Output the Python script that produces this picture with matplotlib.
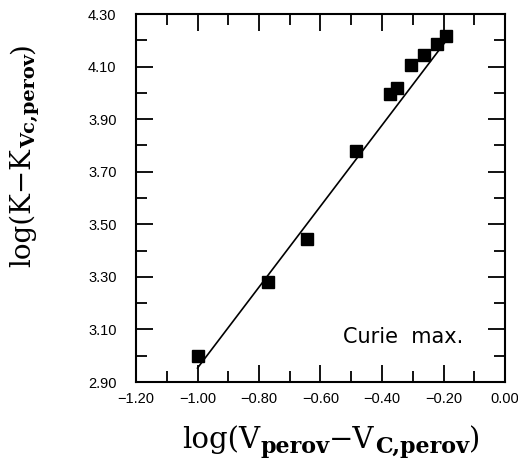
import matplotlib
matplotlib.use("Agg")
import matplotlib.pyplot as plt
from matplotlib.ticker import MultipleLocator, FuncFormatter
import numpy as np

# data
x_vals = [-1.00, -0.77, -0.645, -0.485, -0.374, -0.351, -0.306, -0.263, -0.221, -0.192]
y_vals = [3.00, 3.28, 3.445, 3.78, 3.995, 4.02, 4.105, 4.145, 4.185, 4.215]
fit_x = [-1.00, -0.19]
fit_slope = 1.54
fit_intercept = 2.953 + 1.54  # y at x=0
y_ticks = [2.9, 3.1, 3.3, 3.5, 3.7, 3.9, 4.1, 4.3]
annotation = "Curie  max."

W, H = 518, 469
fig = plt.figure(figsize=(W/100, H/100), dpi=100)
ax = fig.add_axes([136/W, 1-382/H, (505-136)/W, (382-14)/H])

ax.plot(x_vals, y_vals, 's', color='black', ms=9, zorder=3)
fx = np.array(fit_x)
ax.plot(fx, fit_slope*fx + fit_intercept, '-', color='black', lw=1.2)

ax.set_xlim(-1.2, 0.0)
ax.set_ylim(2.9, 4.3)
fmt = FuncFormatter(lambda v, p: ('%.2f' % v).replace('-', '\u2212'))
ax.xaxis.set_major_locator(MultipleLocator(0.2))
ax.xaxis.set_minor_locator(MultipleLocator(0.1))
ax.yaxis.set_minor_locator(MultipleLocator(0.1))
ax.set_yticks(y_ticks)
ax.xaxis.set_major_formatter(fmt)
ax.yaxis.set_major_formatter(fmt)
ax.tick_params(which='both', direction='in', top=True, right=True, width=1.3, labelsize=10.5)
ax.tick_params(which='major', length=12)
ax.tick_params(which='minor', length=8)
ax.tick_params(axis='y', which='major', pad=14)
ax.tick_params(axis='x', which='major', pad=7)
for lab in ax.get_xticklabels() + ax.get_yticklabels():
    lab.set_fontfamily('Liberation Sans')
for s in ax.spines.values():
    s.set_linewidth(1.5)

ax.text(-0.137, 3.071, annotation, ha='right', va='center', fontsize=15)

renderer = fig.canvas.get_renderer()


def measure(s, size, weight):
    t = fig.text(0, 0, s, fontsize=size, fontweight=weight, family='DejaVu Serif')
    w = t.get_window_extent(renderer).width
    t.remove()
    return w


def draw_label(pieces, center, base, rotated):
    widths = [measure(s, sz, wt) for s, sz, wt, sh in pieces]
    total = sum(widths)
    pos = center - total/2 if not rotated else center + total/2
    for (s, sz, wt, sh), w in zip(pieces, widths):
        if not rotated:
            fig.text(pos/W, 1-(base+sh)/H, s, fontsize=sz, fontweight=wt,
                     family='DejaVu Serif', ha='left', va='baseline')
            pos += w
        else:
            fig.text((base+sh)/W, 1-pos/H, s, fontsize=sz, fontweight=wt,
                     family='DejaVu Serif', ha='left', va='baseline',
                     rotation=90, rotation_mode='anchor')
            pos -= w


draw_label([("log(V", 21, 'normal', 0),
            ("perov", 16, 'bold', 5),
            ("\u2212V", 21, 'normal', 0),
            ("C,perov", 16, 'bold', 5),
            (")", 21, 'normal', 0)],
           center=331, base=448, rotated=False)

draw_label([("log(K\u2212K", 20, 'normal', 0),
            ("Vc,perov", 14, 'bold', 5),
            (")", 20, 'normal', 0)],
           center=155, base=30, rotated=True)

fig.savefig('out.png', dpi=100)
